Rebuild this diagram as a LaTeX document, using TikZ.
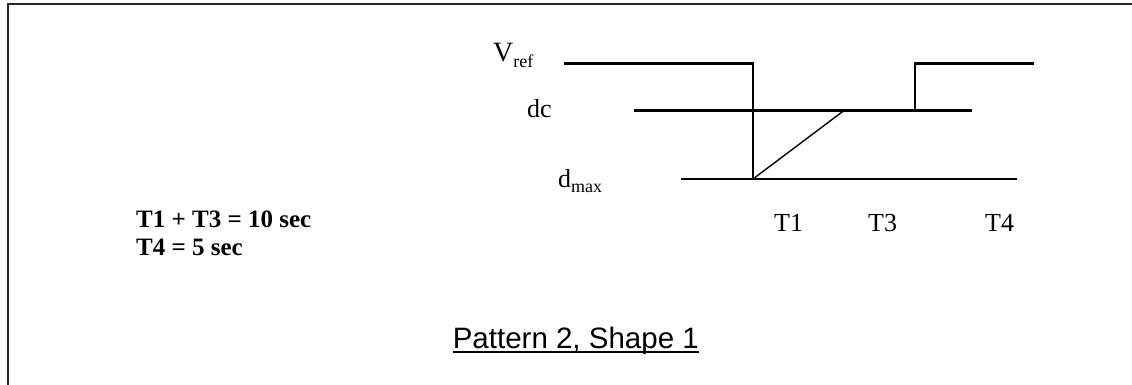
\documentclass[tikz,border=0pt]{standalone}
\usepackage{fontspec}
\setmainfont{Liberation Serif}
\newfontfamily\arialfont{Liberation Sans}
\begin{document}
\begin{tikzpicture}[x=1pt,y=-1pt,
  wave/.style={line width=2.3pt,line cap=rect,line join=miter},
  ramp/.style={line width=1.4pt},
  lbl/.style={inner sep=0pt,anchor=base west,font=\fontsize{26}{29}\selectfont},
  note/.style={inner sep=0pt,anchor=base west,font=\fontsize{25}{29}\selectfont\bfseries},
  frame/.style={line width=2.2pt,draw=black!85}]
\useasboundingbox (0,0) rectangle (1132,385);
% frame (open at right and bottom, as cropped)
\draw[frame] (8,400) -- (8,4) -- (1150,4);
% coordinates
\coordinate (v0) at (565,63.5);
\coordinate (v1) at (753,63.5);
\coordinate (v2) at (753,179);
\coordinate (c0) at (635,110.5);
\coordinate (c1) at (971,110.5);
\coordinate (m0) at (682,179);
\coordinate (m1) at (1016,179);
\coordinate (r1) at (844,110.5);
\coordinate (s0) at (915,110.5);
\coordinate (s1) at (915,63.5);
\coordinate (s2) at (1033,63.5);
% waveform
\draw[wave] (v0) -- (v1) -- (v2);
\draw[wave] (c0) -- (c1);
\draw[wave] (m0) -- (m1);
\draw[ramp] (v2) -- (r1);
\draw[wave] (s0) -- (s1) -- (s2);
% level labels
\node[lbl,font=\fontsize{28}{30}\selectfont] (vref) at (493,62) {V\raisebox{-0.2em}{\fontsize{18}{18}\selectfont ref}};
\node[lbl] (dc) at (527,118) {dc};
\node[lbl] (dmax) at (558,187) {d\raisebox{-0.22em}{\fontsize{18}{18}\selectfont max}};
% time labels
\node[lbl] (t1) at (774,231) {T1};
\node[lbl] (t3) at (868,231) {T3};
\node[lbl] (t4) at (985,231) {T4};
% notes
\node[note] (n1) at (136,227) {T1 + T3 = 10 sec};
\node[note] (n2) at (136,255) {T4 = 5 sec};
% caption
\node[inner sep=0pt,anchor=base east,font=\arialfont\fontsize{29.5}{32}\selectfont] (cap) at (699,348) {Pattern 2, Shape 1};
\draw[line width=2pt] ([yshift=-3.5pt]cap.base west) -- ([yshift=-3.5pt]cap.base east);
\end{tikzpicture}
\end{document}
